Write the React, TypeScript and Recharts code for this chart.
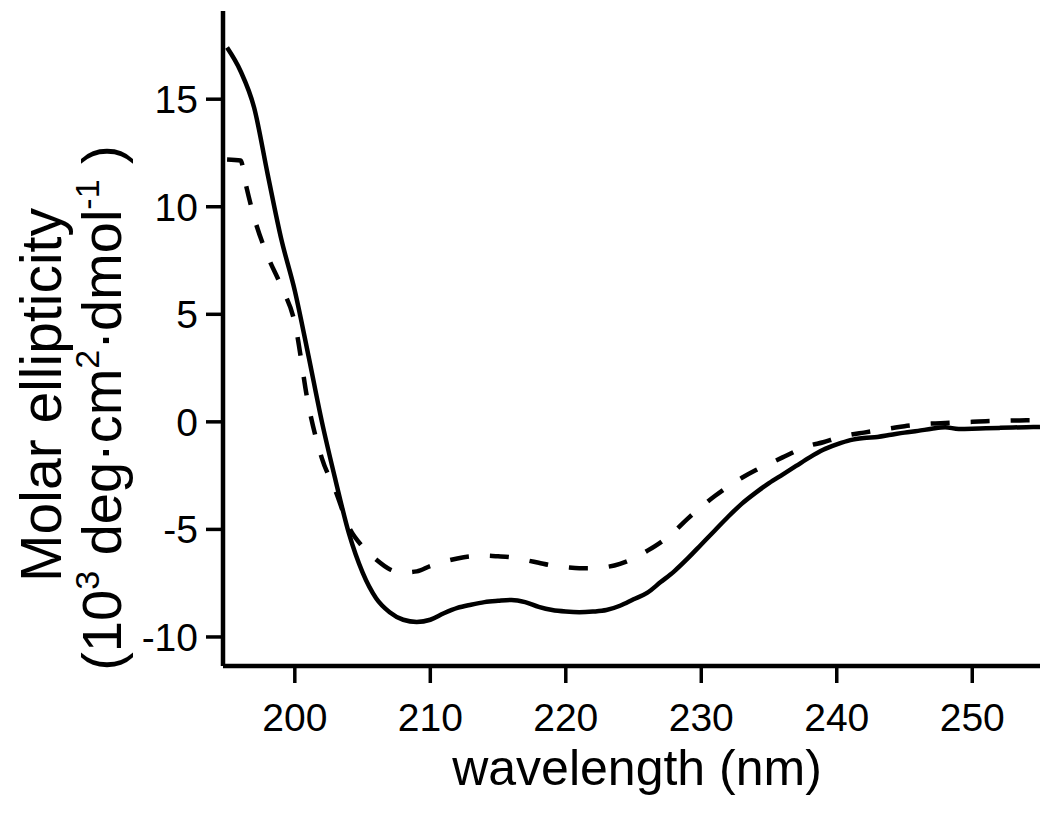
import React from 'react';
import { LineChart, Line, XAxis, YAxis, Label } from 'recharts';

// CD spectra, wavelength in nm, molar ellipticity in 10^3 deg cm^2 dmol^-1
const wavelengths = [
  195, 196, 197, 198, 199, 200, 201, 202, 203, 204, 205, 206, 207, 208, 209, 210,
  211, 212, 213, 214, 215, 216, 217, 218, 219, 220, 221, 222, 223, 224, 225, 226,
  227, 228, 229, 230, 231, 232, 233, 234, 235, 236, 237, 238, 239, 240, 241, 242,
  243, 244, 245, 246, 247, 248, 249, 250, 251, 252, 253, 254, 255,
];

const solidValues = [
  17.4, 16.3, 14.6, 11.5, 8.5, 6.1, 3.1, 0.0, -2.7, -5.2, -7.0, -8.2, -8.85, -9.2, -9.3, -9.2,
  -8.9, -8.65, -8.5, -8.38, -8.32, -8.28, -8.38, -8.6, -8.75, -8.82, -8.85, -8.82, -8.75, -8.55, -8.25, -7.95,
  -7.45, -6.95, -6.35, -5.7, -5.05, -4.4, -3.8, -3.3, -2.85, -2.45, -2.05, -1.65, -1.3, -1.05, -0.85, -0.75,
  -0.7, -0.6, -0.5, -0.42, -0.32, -0.25, -0.33, -0.32, -0.3, -0.28, -0.26, -0.25, -0.24,
];

const dashedWavelengths = [
  195, 196, 196.4, 197, 198, 199, 200, 201, 202, 203, 204, 205, 206, 207, 208, 209, 210,
  211, 212, 213, 214, 215, 216, 217, 218, 219, 220, 221, 222, 223, 224, 225, 226,
  227, 228, 229, 230, 231, 232, 233, 234, 235, 236, 237, 238, 239, 240, 241, 242,
  243, 244, 245, 246, 247, 248, 249, 250, 251, 252, 253, 254, 255,
];

const dashedValues = [
  12.2, 12.15, 11.0, 9.5, 7.7, 6.3, 4.6, 0.8, -1.7, -3.2, -4.9, -5.8, -6.4, -6.85, -7.0, -6.95, -6.7,
  -6.5, -6.35, -6.25, -6.22, -6.25, -6.3, -6.42, -6.55, -6.68, -6.75, -6.8, -6.8, -6.75, -6.6, -6.35, -6.0,
  -5.6, -5.1, -4.5, -3.95, -3.45, -3.0, -2.6, -2.25, -1.95, -1.65, -1.35, -1.1, -0.95, -0.75, -0.6, -0.5,
  -0.4, -0.3, -0.2, -0.13, -0.08, -0.05, -0.02, 0.0, 0.03, 0.05, 0.06, 0.07, 0.08,
];

const xTicks = [200, 210, 220, 230, 240, 250];
const yTicks = [-10, -5, 0, 5, 10, 15];

const FONT = '"Liberation Sans", Arial, Helvetica, sans-serif';

const solidData = wavelengths.map((x, i) => ({ x, y: solidValues[i] }));
const dashedData = dashedWavelengths.map((x, i) => ({ x, y: dashedValues[i] }));

const XTitle = () => (
  <text x={629} y={777} textAnchor="middle" fontSize={50} fontFamily={FONT} fill="#000">
    wavelength (nm)
  </text>
);

const YTitle = () => {
  const l1x = 53, l1y = 387;
  const l2x = 113, l2y = 400;
  return (
    <g fontFamily={FONT} fill="#000">
      <text x={l1x} y={l1y} fontSize={57} textAnchor="middle" transform={`rotate(-90 ${l1x} ${l1y})`}>
        Molar ellipticity
      </text>
      <text x={l2x} y={l2y} fontSize={56} textAnchor="middle" transform={`rotate(-90 ${l2x} ${l2y})`}>
        (10<tspan fontSize={34} dy={-22}>3</tspan>
        <tspan dy={22}> deg·cm</tspan>
        <tspan fontSize={34} dy={-22}>2</tspan>
        <tspan dy={22}>·dmol</tspan>
        <tspan fontSize={34} dy={-22}>-1</tspan>
        <tspan dy={22}> )</tspan>
      </text>
    </g>
  );
};

export default function App() {
  return (
    <LineChart width={1042} height={826} margin={{ top: 3, right: 10, left: 0, bottom: 0 }}>
      <XAxis
        type="number"
        dataKey="x"
        domain={[194.7, 255]}
        ticks={xTicks}
        allowDataOverflow
        height={168}
        axisLine={{ stroke: '#000', strokeWidth: 4.5 }}
        tickLine={{ stroke: '#000', strokeWidth: 3.5 }}
        tickSize={17}
        tickMargin={20}
        tick={{ fill: '#000', fontSize: 39, fontFamily: FONT }}
      >
        <Label content={XTitle} />
      </XAxis>
      <YAxis
        type="number"
        domain={[-11.35, 19.1]}
        ticks={yTicks}
        allowDataOverflow
        width={215}
        axisLine={{ stroke: '#000', strokeWidth: 4.5 }}
        tickLine={{ stroke: '#000', strokeWidth: 3.5 }}
        tickSize={17}
        tickMargin={8}
        tick={{ fill: '#000', fontSize: 39, fontFamily: FONT }}
      >
        <Label content={YTitle} />
      </YAxis>
      <Line
        data={solidData}
        dataKey="y"
        type="monotone"
        stroke="#000"
        strokeWidth={4.5}
        dot={false}
        isAnimationActive={false}
      />
      <Line
        data={dashedData}
        dataKey="y"
        type="monotone"
        stroke="#000"
        strokeWidth={4.5}
        strokeDasharray="19 21"
        dot={false}
        isAnimationActive={false}
      />
    </LineChart>
  );
}
